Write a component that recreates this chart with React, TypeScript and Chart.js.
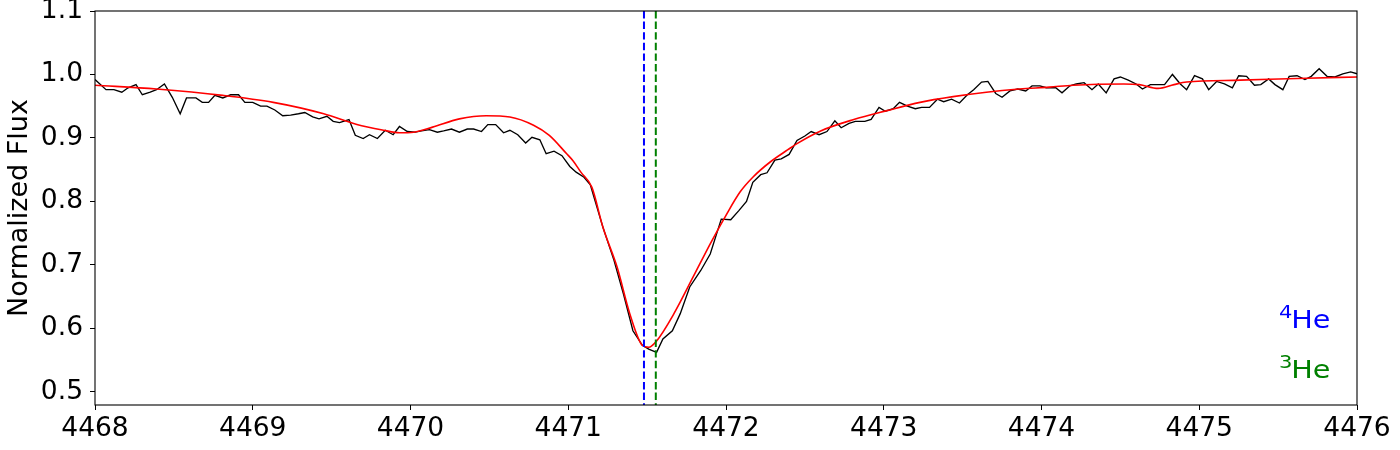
import React, { useEffect, useRef } from 'react';
import { Chart, registerables } from 'chart.js';

Chart.register(...registerables);

// Observed spectrum (wavelength in Å, normalized flux)
const spectrumWavelength = [
  4468.00, 4468.07, 4468.12, 4468.17, 4468.21, 4468.26, 4468.30, 4468.35, 4468.39, 4468.44,
  4468.49, 4468.54, 4468.58, 4468.64, 4468.68, 4468.72, 4468.76, 4468.81, 4468.86, 4468.91,
  4468.95, 4469.00, 4469.05, 4469.09, 4469.14, 4469.19, 4469.24, 4469.29, 4469.33, 4469.38,
  4469.42, 4469.47, 4469.51, 4469.55, 4469.61, 4469.65, 4469.70, 4469.74, 4469.79, 4469.84,
  4469.89, 4469.93, 4469.98, 4470.03, 4470.07, 4470.12, 4470.17, 4470.21, 4470.26, 4470.31,
  4470.36, 4470.40, 4470.45, 4470.49, 4470.54, 4470.59, 4470.63, 4470.68, 4470.73, 4470.77,
  4470.82, 4470.86, 4470.91, 4470.96, 4471.01, 4471.05, 4471.10, 4471.14, 4471.17, 4471.22,
  4471.29, 4471.35, 4471.41, 4471.47, 4471.51, 4471.56, 4471.60, 4471.66, 4471.71, 4471.77,
  4471.84, 4471.90, 4471.97, 4472.03, 4472.08, 4472.13, 4472.17, 4472.22, 4472.26, 4472.31,
  4472.35, 4472.40, 4472.45, 4472.50, 4472.54, 4472.59, 4472.64, 4472.69, 4472.73, 4472.78,
  4472.82, 4472.88, 4472.92, 4472.97, 4473.01, 4473.06, 4473.10, 4473.15, 4473.20, 4473.24,
  4473.29, 4473.34, 4473.38, 4473.43, 4473.48, 4473.53, 4473.57, 4473.62, 4473.66, 4473.71,
  4473.75, 4473.80, 4473.85, 4473.90, 4473.94, 4473.99, 4474.03, 4474.09, 4474.13, 4474.18,
  4474.22, 4474.27, 4474.32, 4474.36, 4474.41, 4474.46, 4474.50, 4474.55, 4474.60, 4474.64,
  4474.69, 4474.74, 4474.78, 4474.83, 4474.88, 4474.92, 4474.97, 4475.02, 4475.06, 4475.11,
  4475.16, 4475.21, 4475.25, 4475.30, 4475.35, 4475.39, 4475.44, 4475.48, 4475.53, 4475.57,
  4475.62, 4475.67, 4475.71, 4475.76, 4475.81, 4475.86, 4475.91, 4475.96, 4476.00,
];

const spectrumFlux = [
  0.992, 0.976, 0.976, 0.972, 0.979, 0.984, 0.968, 0.972, 0.976, 0.985,
  0.964, 0.938, 0.963, 0.963, 0.956, 0.956, 0.967, 0.963, 0.968, 0.968,
  0.956, 0.956, 0.950, 0.950, 0.944, 0.935, 0.936, 0.938, 0.940, 0.933,
  0.930, 0.934, 0.926, 0.924, 0.929, 0.904, 0.899, 0.905, 0.899, 0.912,
  0.905, 0.918, 0.910, 0.909, 0.911, 0.913, 0.909, 0.911, 0.914, 0.909,
  0.914, 0.914, 0.910, 0.921, 0.921, 0.908, 0.912, 0.905, 0.892, 0.901,
  0.897, 0.875, 0.879, 0.872, 0.855, 0.846, 0.838, 0.826, 0.801, 0.759,
  0.707, 0.654, 0.596, 0.573, 0.567, 0.562, 0.583, 0.596, 0.623, 0.665,
  0.691, 0.717, 0.772, 0.771, 0.785, 0.800, 0.830, 0.842, 0.845, 0.865,
  0.867, 0.874, 0.896, 0.903, 0.910, 0.905, 0.910, 0.927, 0.916, 0.923,
  0.926, 0.926, 0.929, 0.948, 0.942, 0.946, 0.956, 0.950, 0.946, 0.948,
  0.948, 0.961, 0.957, 0.961, 0.955, 0.968, 0.976, 0.988, 0.989, 0.970,
  0.964, 0.974, 0.977, 0.974, 0.982, 0.982, 0.979, 0.979, 0.971, 0.982,
  0.985, 0.987, 0.976, 0.985, 0.971, 0.993, 0.996, 0.991, 0.985, 0.977,
  0.984, 0.984, 0.984, 1.000, 0.985, 0.976, 0.998, 0.993, 0.976, 0.989,
  0.985, 0.979, 0.998, 0.997, 0.983, 0.984, 0.993, 0.984, 0.976, 0.997,
  0.998, 0.992, 0.997, 1.009, 0.997, 0.996, 1.001, 1.004, 1.001,
];

// Model fit (red curve)
const modelWavelength = [
  4468.00, 4468.39, 4468.81, 4469.13, 4469.45, 4469.66, 4469.83, 4469.93, 4470.02, 4470.14,
  4470.31, 4470.48, 4470.63, 4470.78, 4470.88, 4470.99, 4471.03, 4471.08, 4471.15, 4471.22,
  4471.31, 4471.39, 4471.47, 4471.51, 4471.56, 4471.67, 4471.79, 4471.90, 4472.00, 4472.09,
  4472.17, 4472.28, 4472.39, 4472.45, 4472.60, 4472.81, 4473.02, 4473.23, 4473.44, 4473.65,
  4473.86, 4474.05, 4474.20, 4474.52, 4474.62, 4474.74, 4474.84, 4474.92, 4475.26, 4475.68,
  4476.00,
];

const modelFlux = [
  0.983, 0.977, 0.967, 0.956, 0.938, 0.921, 0.912, 0.908, 0.909, 0.917,
  0.930, 0.935, 0.933, 0.920, 0.904, 0.875, 0.864, 0.846, 0.822, 0.759,
  0.696, 0.623, 0.573, 0.570, 0.580, 0.623, 0.680, 0.733, 0.778, 0.815,
  0.838, 0.862, 0.881, 0.891, 0.911, 0.929, 0.943, 0.956, 0.965, 0.972,
  0.977, 0.980, 0.983, 0.985, 0.984, 0.978, 0.984, 0.988, 0.991, 0.994,
  0.996,
];

// Rest wavelengths of the He I 4471 line for the two isotopes
const isotopeWavelengths = [4471.48, 4471.555];
const isotopeColors = ['#0000ff', '#008000'];
const isotopeMass = ['4', '3'];
const isotopeSymbol = ['He', 'He'];

const xTicks = [4468, 4469, 4470, 4471, 4472, 4473, 4474, 4475, 4476];
const yTicks = [0.5, 0.6, 0.7, 0.8, 0.9, 1.0, 1.1];

const X_MIN = 4468;
const X_MAX = 4476;
const Y_MIN = 0.479;
const Y_MAX = 1.1;

const FONT = 'DejaVu Sans';

const overlayPlugin = {
  id: 'overlay',
  afterDatasetsDraw(chart: any) {
    const { ctx, chartArea, scales } = chart;
    ctx.save();
    // isotope marker lines
    isotopeWavelengths.forEach((wl, i) => {
      const x = scales.x.getPixelForValue(wl);
      ctx.beginPath();
      ctx.setLineDash([7.4, 3.2]);
      ctx.lineWidth = 2;
      ctx.strokeStyle = isotopeColors[i];
      ctx.moveTo(x, chartArea.top);
      ctx.lineTo(x, chartArea.bottom);
      ctx.stroke();
    });
    ctx.setLineDash([]);
    // frame
    ctx.strokeStyle = '#000000';
    ctx.lineWidth = 1.1;
    ctx.strokeRect(chartArea.left, chartArea.top, chartArea.width, chartArea.height);
    // isotope labels
    const right = chartArea.right - 26.5;
    const baselines = [chartArea.bottom - 76.7, chartArea.bottom - 26.7];
    const stretch = 1.17;
    isotopeSymbol.forEach((sym, i) => {
      ctx.save();
      ctx.translate(right, baselines[i]);
      ctx.scale(stretch, 1);
      ctx.fillStyle = isotopeColors[i];
      ctx.textBaseline = 'alphabetic';
      ctx.textAlign = 'right';
      ctx.font = `24.5px "${FONT}"`;
      const w = ctx.measureText(sym).width;
      ctx.fillText(sym, 0, 0);
      ctx.font = `18px "${FONT}"`;
      ctx.fillText(isotopeMass[i], -w + 1, -10.2);
      ctx.restore();
    });
    ctx.restore();
  },
};

export default function App() {
  const canvasRef = useRef<HTMLCanvasElement | null>(null);

  useEffect(() => {
    document.body.style.margin = '0';
    const canvas = canvasRef.current;
    if (!canvas) return;

    const chart = new Chart(canvas, {
      type: 'line',
      data: {
        datasets: [
          {
            label: 'Observed',
            data: spectrumWavelength.map((x, i) => ({ x, y: spectrumFlux[i] })),
            borderColor: '#000000',
            borderWidth: 1.35,
            pointRadius: 0,
            tension: 0,
            fill: false,
            order: 2,
          },
          {
            label: 'Model',
            data: modelWavelength.map((x, i) => ({ x, y: modelFlux[i] })),
            borderColor: '#ff0000',
            borderWidth: 1.6,
            pointRadius: 0,
            cubicInterpolationMode: 'monotone',
            fill: false,
            order: 1,
          },
        ],
      },
      options: {
        animation: false,
        responsive: false,
        devicePixelRatio: 1,
        layout: { padding: { left: 0, top: 11, right: 43, bottom: 0 } },
        plugins: {
          legend: { display: false },
          tooltip: { enabled: false },
        },
        scales: {
          x: {
            type: 'linear',
            min: X_MIN,
            max: X_MAX,
            afterBuildTicks: (scale: any) => {
              scale.ticks = xTicks.map((v) => ({ value: v }));
            },
            afterFit: (scale: any) => {
              scale.height = 45;
              scale.paddingLeft = 0;
              scale.paddingRight = 0;
            },
            grid: {
              drawOnChartArea: false,
              drawTicks: true,
              tickLength: 5,
              color: '#000000',
              lineWidth: 1,
            },
            border: { display: false },
            ticks: {
              autoSkip: false,
              maxRotation: 0,
              padding: 3,
              color: '#000000',
              font: { family: FONT, size: 26.5 },
              callback: (v: any) => String(v),
            },
          },
          y: {
            type: 'linear',
            min: Y_MIN,
            max: Y_MAX,
            afterBuildTicks: (scale: any) => {
              scale.ticks = yTicks.map((v) => ({ value: v }));
            },
            afterFit: (scale: any) => {
              scale.width = 95;
              scale.paddingTop = 0;
              scale.paddingBottom = 0;
            },
            grid: {
              drawOnChartArea: false,
              drawTicks: true,
              tickLength: 5,
              color: '#000000',
              lineWidth: 1,
            },
            border: { display: false },
            ticks: {
              padding: 7,
              color: '#000000',
              font: { family: FONT, size: 26.5 },
              callback: (v: any) => Number(v).toFixed(1),
            },
            title: {
              display: true,
              text: 'Normalized Flux',
              color: '#000000',
              font: { family: FONT, size: 27, lineHeight: 1 },
              padding: { top: 6, bottom: 0 },
            },
          },
        },
      },
      plugins: [overlayPlugin],
    });

    return () => chart.destroy();
  }, []);

  return (
    <div style={{ width: 1400, height: 450 }}>
      <canvas ref={canvasRef} width={1400} height={450} />
    </div>
  );
}
